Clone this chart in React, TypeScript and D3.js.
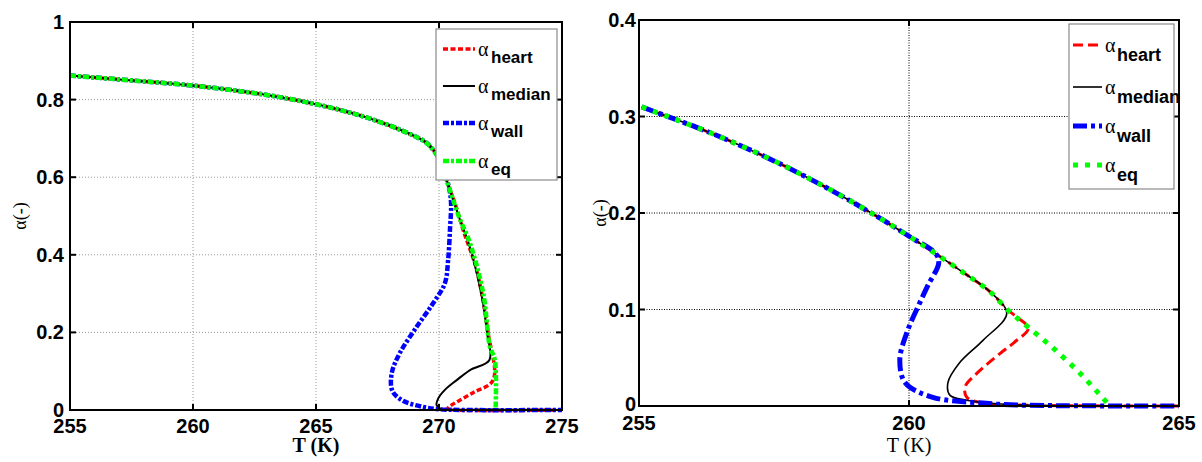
import React from 'react';
import * as d3 from 'd3';

// ---------- Left panel data ----------
const leftXTicks = [255, 260, 265, 270, 275];
const leftYTicks = [0, 0.2, 0.4, 0.6, 0.8, 1];
const leftYTickLabels = ['0', '0.2', '0.4', '0.6', '0.8', '1'];
const leftXGrid = [260, 265, 270];
const leftYGrid = [0.2, 0.4, 0.6, 0.8];

const leftCommonT = [255, 256, 257, 258, 259, 260, 261, 262, 263, 264, 265, 266, 267, 268, 268.5, 269, 269.5, 270, 270.4];
const leftCommonA = [0.862, 0.857, 0.852, 0.847, 0.842, 0.836, 0.829, 0.821, 0.812, 0.801, 0.788, 0.773, 0.755, 0.733, 0.72, 0.706, 0.688, 0.648, 0.575];

const leftHeartT = [270.65, 271.0, 271.53, 272.0, 272.2, 271.4, 270.7, 270.45, 270.35, 270.6, 275];
const leftHeartA = [0.533, 0.46, 0.361, 0.198, 0.077, 0.045, 0.02, 0.01, 0.003, 0.0, 0.0];

const leftMedianT = [270.8, 271.3, 271.75, 271.95, 272.05, 271.26, 270.72, 270.24, 269.97, 269.9, 270.04, 272, 275];
const leftMedianA = [0.5, 0.41, 0.29, 0.2, 0.129, 0.103, 0.077, 0.052, 0.03, 0.013, 0.004, 0.001, 0.0];

const leftWallT = [270.49, 270.45, 270.37, 270.24, 269.76, 269.1, 268.4, 268.08, 268.1, 268.5, 269.35, 270, 271, 275];
const leftWallA = [0.533, 0.47, 0.386, 0.327, 0.275, 0.215, 0.146, 0.095, 0.05, 0.025, 0.008, 0.002, 0.0, 0.0];

const leftEqT = [270.8, 271.26, 271.8, 272.07, 272.27, 272.3];
const leftEqA = [0.5, 0.43, 0.3, 0.163, 0.129, 0.0];

// ---------- Right panel data ----------
const rightXTicks = [255, 260, 265];
const rightYTicks = [0, 0.1, 0.2, 0.3, 0.4];
const rightYTickLabels = ['0', '0.1', '0.2', '0.3', '0.4'];
const rightXGrid = [260];
const rightYGrid = [0.1, 0.2, 0.3];

const rightCommonT = [255.05, 255.5, 256, 256.5, 257, 257.5, 258, 258.5, 259, 259.5, 260, 260.5, 261, 261.5, 261.83];
const rightCommonA = [0.31, 0.3006, 0.2902, 0.279, 0.2669, 0.254, 0.2401, 0.2254, 0.2098, 0.1933, 0.1759, 0.1576, 0.1385, 0.1184, 0.0995];

const rightHeartT = [262.0, 262.21, 261.95, 261.69, 261.26, 261.04, 261.07, 261.37, 262, 265];
const rightHeartA = [0.092, 0.0805, 0.066, 0.0546, 0.034, 0.02, 0.009, 0.003, 0.001, 0.0];

const rightMedianT = [261.81, 261.37, 260.94, 260.72, 260.76, 261.07, 261.7, 265];
const rightMedianA = [0.096, 0.068, 0.045, 0.024, 0.011, 0.006, 0.002, 0.0];

const rightWallT = [260.55, 260.35, 260.2, 259.96, 259.83, 259.93, 260.44, 261.37, 262, 265];
const rightWallA = [0.148, 0.125, 0.107, 0.076, 0.048, 0.024, 0.009, 0.003, 0.001, 0.0];

const rightEqT = [262.2, 262.67, 263.2, 263.72];
const rightEqA = [0.082, 0.06, 0.032, 0.0];

const legendNames = ['heart', 'median', 'wall', 'eq'];

type Pt = [number, number];
const zip = (t: number[], a: number[]): Pt[] => t.map((v, i) => [v, a[i]]);

function cut(t: number[], a: number[], tMax: number): Pt[] {
  // common-curve points up to a branching temperature
  return zip(t, a).filter((p) => p[0] <= tMax + 1e-9);
}

interface SeriesStyle { color: string; width: number; dash: string; }

interface PanelCfg {
  x0: number; x1: number; y0: number; y1: number;
  xDomain: [number, number]; yDomain: [number, number];
  xTicks: number[]; yTicks: number[]; yLabels: string[];
  xGrid: number[]; yGrid: number[];
  gridColor: string; gridDash: string;
  series: { pts: Pt[]; style: SeriesStyle }[];
  legend: { x: number; y: number; w: number; h: number; rows: number[]; lx0: number; lx1: number; ax: number; subDx: number; subDy: number; };
  tickFont: string; tickSize: number; tickWeight: string | number;
  subFont: string; subSize: number;
  yLabelX: number; xLabelY: number; xLabelWeight: string | number;
  xTickBaseline: number; yTickRight: number; zeroDy: number;
}

function Panel({ c }: { c: PanelCfg }) {
  const x = d3.scaleLinear().domain(c.xDomain).range([c.x0, c.x1]);
  const y = d3.scaleLinear().domain(c.yDomain).range([c.y1, c.y0]);
  const line = d3.line<Pt>().x((d) => x(d[0])).y((d) => y(d[1])).curve(d3.curveCatmullRom.alpha(0.5));
  const tl = 6;
  return (
    <g>
      {/* grid */}
      {c.xGrid.map((v) => (
        <line key={'gx' + v} x1={x(v)} x2={x(v)} y1={c.y0} y2={c.y1} stroke={c.gridColor} strokeWidth={1} strokeDasharray={c.gridDash} />
      ))}
      {c.yGrid.map((v) => (
        <line key={'gy' + v} x1={c.x0} x2={c.x1} y1={y(v)} y2={y(v)} stroke={c.gridColor} strokeWidth={1} strokeDasharray={c.gridDash} />
      ))}
      {/* series */}
      {c.series.map((s, i) => (
        <path key={'s' + i} d={line(s.pts) || ''} fill="none" stroke={s.style.color} strokeWidth={s.style.width} strokeDasharray={s.style.dash} strokeLinecap="butt" strokeLinejoin="round" />
      ))}
      {/* axes box */}
      <rect x={c.x0} y={c.y0} width={c.x1 - c.x0} height={c.y1 - c.y0} fill="none" stroke="#000" strokeWidth={2} />
      {c.xTicks.map((v) => (
        <g key={'tx' + v}>
          <line x1={x(v)} x2={x(v)} y1={c.y1} y2={c.y1 - tl} stroke="#000" strokeWidth={2} />
          <line x1={x(v)} x2={x(v)} y1={c.y0} y2={c.y0 + tl} stroke="#000" strokeWidth={2} />
          <text x={x(v)} y={c.xTickBaseline} textAnchor="middle" fontFamily={c.tickFont} fontSize={c.tickSize} fontWeight={c.tickWeight}>{v}</text>
        </g>
      ))}
      {c.yTicks.map((v, i) => (
        <g key={'ty' + v}>
          <line x1={c.x0} x2={c.x0 + tl} y1={y(v)} y2={y(v)} stroke="#000" strokeWidth={2} />
          <line x1={c.x1} x2={c.x1 - tl} y1={y(v)} y2={y(v)} stroke="#000" strokeWidth={2} />
          <text x={c.yTickRight} y={y(v) + (i === 0 ? c.zeroDy : 0)} textAnchor="end" dominantBaseline="central" fontFamily={c.tickFont} fontSize={c.tickSize} fontWeight={c.tickWeight}>{c.yLabels[i]}</text>
        </g>
      ))}
      {/* axis labels */}
      <text transform={`translate(${c.yLabelX},${(c.y0 + c.y1) / 2}) rotate(-90)`} textAnchor="middle" dominantBaseline="central" fontFamily="'Liberation Serif', 'DejaVu Serif', serif" fontSize={18}>α(-)</text>
      <text x={(c.x0 + c.x1) / 2} y={c.xLabelY} textAnchor="middle" fontFamily="'Liberation Serif', serif" fontSize={20} fontWeight={c.xLabelWeight}>T (K)</text>
      {/* legend */}
      <rect x={c.legend.x} y={c.legend.y} width={c.legend.w} height={c.legend.h} fill="#fff" stroke="#8a8a8a" strokeWidth={1.2} />
      {c.series.map((s, i) => (
        <g key={'lg' + i}>
          <line x1={c.legend.lx0} x2={c.legend.lx1} y1={c.legend.rows[i]} y2={c.legend.rows[i]} stroke={s.style.color} strokeWidth={s.style.width} strokeDasharray={s.style.dash} />
          <text x={c.legend.ax} y={c.legend.rows[i]} dominantBaseline="central" fontFamily="'Liberation Serif', serif" fontSize={20}>α</text>
          <text x={c.legend.ax + c.legend.subDx} y={c.legend.rows[i] + c.legend.subDy} fontFamily={c.subFont} fontSize={c.subSize} fontWeight="bold">{legendNames[i]}</text>
        </g>
      ))}
    </g>
  );
}

export default function App() {
  const lStyles: SeriesStyle[] = [
    { color: '#ff0000', width: 3.5, dash: '5,2.5' },
    { color: '#000000', width: 2, dash: '' },
    { color: '#0000ff', width: 4.5, dash: '6,2,3,2' },
    { color: '#00ff00', width: 4.5, dash: '6,2,3,2' },
  ];
  const rStyles: SeriesStyle[] = [
    { color: '#ff0000', width: 3, dash: '10,5' },
    { color: '#000000', width: 1.6, dash: '' },
    { color: '#0000ff', width: 5, dash: '14,4,4,4' },
    { color: '#00ff00', width: 5, dash: '5,7' },
  ];

  const left: PanelCfg = {
    x0: 70, x1: 562, y0: 22, y1: 410,
    xDomain: [255, 275], yDomain: [0, 1],
    xTicks: leftXTicks, yTicks: leftYTicks, yLabels: leftYTickLabels,
    xGrid: leftXGrid, yGrid: leftYGrid, gridColor: '#9a9a9a', gridDash: '1,2',
    series: [
      { pts: [...cut(leftCommonT, leftCommonA, 270.4), ...zip(leftHeartT, leftHeartA)], style: lStyles[0] },
      { pts: [...cut(leftCommonT, leftCommonA, 270.4), ...zip(leftMedianT, leftMedianA)], style: lStyles[1] },
      { pts: [...cut(leftCommonT, leftCommonA, 270.4), ...zip(leftWallT, leftWallA)], style: lStyles[2] },
      { pts: [...cut(leftCommonT, leftCommonA, 270.4), ...zip(leftEqT, leftEqA)], style: lStyles[3] },
    ],
    legend: { x: 436, y: 29, w: 121, h: 151, rows: [49, 86, 123, 161], lx0: 443, lx1: 475, ax: 478, subDx: 13, subDy: 14 },
    tickFont: "'Liberation Sans', Arial, sans-serif", tickSize: 20, tickWeight: 'bold',
    subFont: "'Liberation Sans', Arial, sans-serif", subSize: 17,
    yLabelX: 20, xLabelY: 452, xLabelWeight: 'bold',
    xTickBaseline: 433, yTickRight: 64, zeroDy: 0,
  };

  const right: PanelCfg = {
    x0: 639, x1: 1179, y0: 20, y1: 406,
    xDomain: [255, 265], yDomain: [0, 0.4],
    xTicks: rightXTicks, yTicks: rightYTicks, yLabels: rightYTickLabels,
    xGrid: rightXGrid, yGrid: rightYGrid, gridColor: '#000', gridDash: '1,1.5',
    series: [
      { pts: [...cut(rightCommonT, rightCommonA, 261.83), ...zip(rightHeartT, rightHeartA)], style: rStyles[0] },
      { pts: [...cut(rightCommonT, rightCommonA, 261.5), ...zip(rightMedianT, rightMedianA)], style: rStyles[1] },
      { pts: [...cut(rightCommonT, rightCommonA, 260.5), ...zip(rightWallT, rightWallA)], style: rStyles[2] },
      { pts: [...cut(rightCommonT, rightCommonA, 261.83), ...zip(rightEqT, rightEqA)], style: rStyles[3] },
    ],
    legend: { x: 1069, y: 24, w: 105, h: 165, rows: [45, 87, 126, 165], lx0: 1073, lx1: 1102, ax: 1105, subDx: 12, subDy: 16 },
    tickFont: "'Liberation Sans Narrow', 'Liberation Sans', Arial, sans-serif", tickSize: 20, tickWeight: 'bold',
    subFont: "'Liberation Sans Narrow', 'Liberation Sans', Arial, sans-serif", subSize: 18,
    yLabelX: 600, xLabelY: 452, xLabelWeight: 'normal',
    xTickBaseline: 430, yTickRight: 636, zeroDy: -2,
  };

  return (
    <svg width={1202} height={462} style={{ position: 'absolute', left: 0, top: 0, background: '#fff' }}>
      <rect x={0} y={0} width={1202} height={462} fill="#fff" />
      <Panel c={left} />
      <Panel c={right} />
    </svg>
  );
}
